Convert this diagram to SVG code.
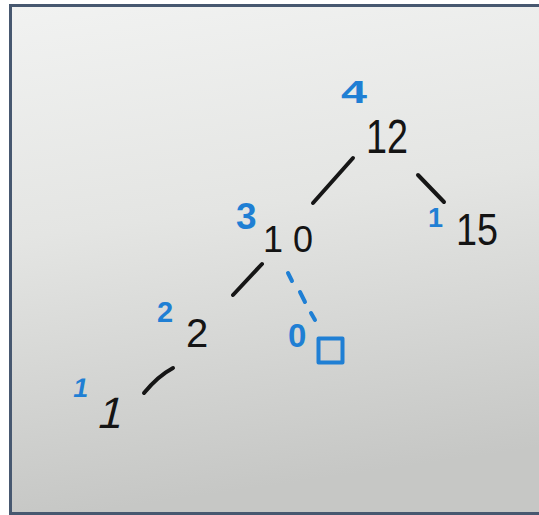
<svg xmlns="http://www.w3.org/2000/svg" width="539" height="515" viewBox="0 0 539 515">
  <defs>
    <linearGradient id="paper" x1="0" y1="0" x2="0.15" y2="1">
      <stop offset="0" stop-color="#f1f2f1"/>
      <stop offset="0.45" stop-color="#e4e5e3"/>
      <stop offset="1" stop-color="#c6c7c5"/>
    </linearGradient>
    <style>
      .ink { font-family: "Liberation Sans", "DejaVu Sans", sans-serif; fill: #141414; }
      .blue { font-family: "Liberation Sans", "DejaVu Sans", sans-serif; font-weight: bold; fill: #1f7fd4; }
      .edge { stroke: #161616; stroke-width: 4; stroke-linecap: round; fill: none; }
      .dash { stroke: #1f7fd4; stroke-width: 4; stroke-linecap: round; fill: none; }
    </style>
  </defs>
  <rect x="0" y="0" width="539" height="515" fill="#ffffff"/>
  <rect x="9" y="4" width="530" height="511" fill="#475870"/>
  <rect x="12" y="7" width="527" height="505" fill="url(#paper)"/>

  <g id="connectors">
    <line class="edge" x1="353" y1="158" x2="313" y2="203"/>
    <line class="edge" x1="418" y1="175" x2="444" y2="202"/>
    <line class="edge" x1="262" y1="264" x2="233" y2="295"/>
    <path class="edge" d="M173 368 Q158 376 144 393"/>
    <line class="dash" x1="288" y1="273" x2="292" y2="281"/>
    <line class="dash" x1="300" y1="292" x2="305" y2="302"/>
    <line class="dash" x1="311" y1="313" x2="315" y2="320"/>
  </g>

  <g id="node-12">
    <text class="ink" x="366" y="153" font-size="48" textLength="42" lengthAdjust="spacingAndGlyphs">12</text>
    <text class="blue" x="341" y="103" font-size="31" textLength="26" lengthAdjust="spacingAndGlyphs">4</text>
  </g>
  <g id="node-10">
    <text class="ink" x="263" y="252" font-size="36" textLength="50" lengthAdjust="spacing">10</text>
    <text class="blue" x="236" y="229" font-size="37">3</text>
  </g>
  <g id="node-15">
    <text class="ink" x="456" y="245" font-size="44" textLength="42" lengthAdjust="spacingAndGlyphs">15</text>
    <text class="blue" x="428" y="227" font-size="27">1</text>
  </g>
  <g id="node-2">
    <text class="ink" x="186" y="347" font-size="40">2</text>
    <text class="blue" x="157" y="322" font-size="29">2</text>
  </g>
  <g id="node-1">
    <text class="ink" x="0" y="0" font-size="44" transform="translate(96 428) skewX(-14)">1</text>
    <text class="blue" x="0" y="0" font-size="27" transform="translate(72 397) skewX(-10)">1</text>
  </g>
  <g id="node-null">
    <rect x="318.5" y="338.5" width="24" height="24" fill="none" stroke="#1f7fd4" stroke-width="4" stroke-linejoin="round"/>
    <text class="blue" x="288" y="347" font-size="33">0</text>
  </g>
</svg>
